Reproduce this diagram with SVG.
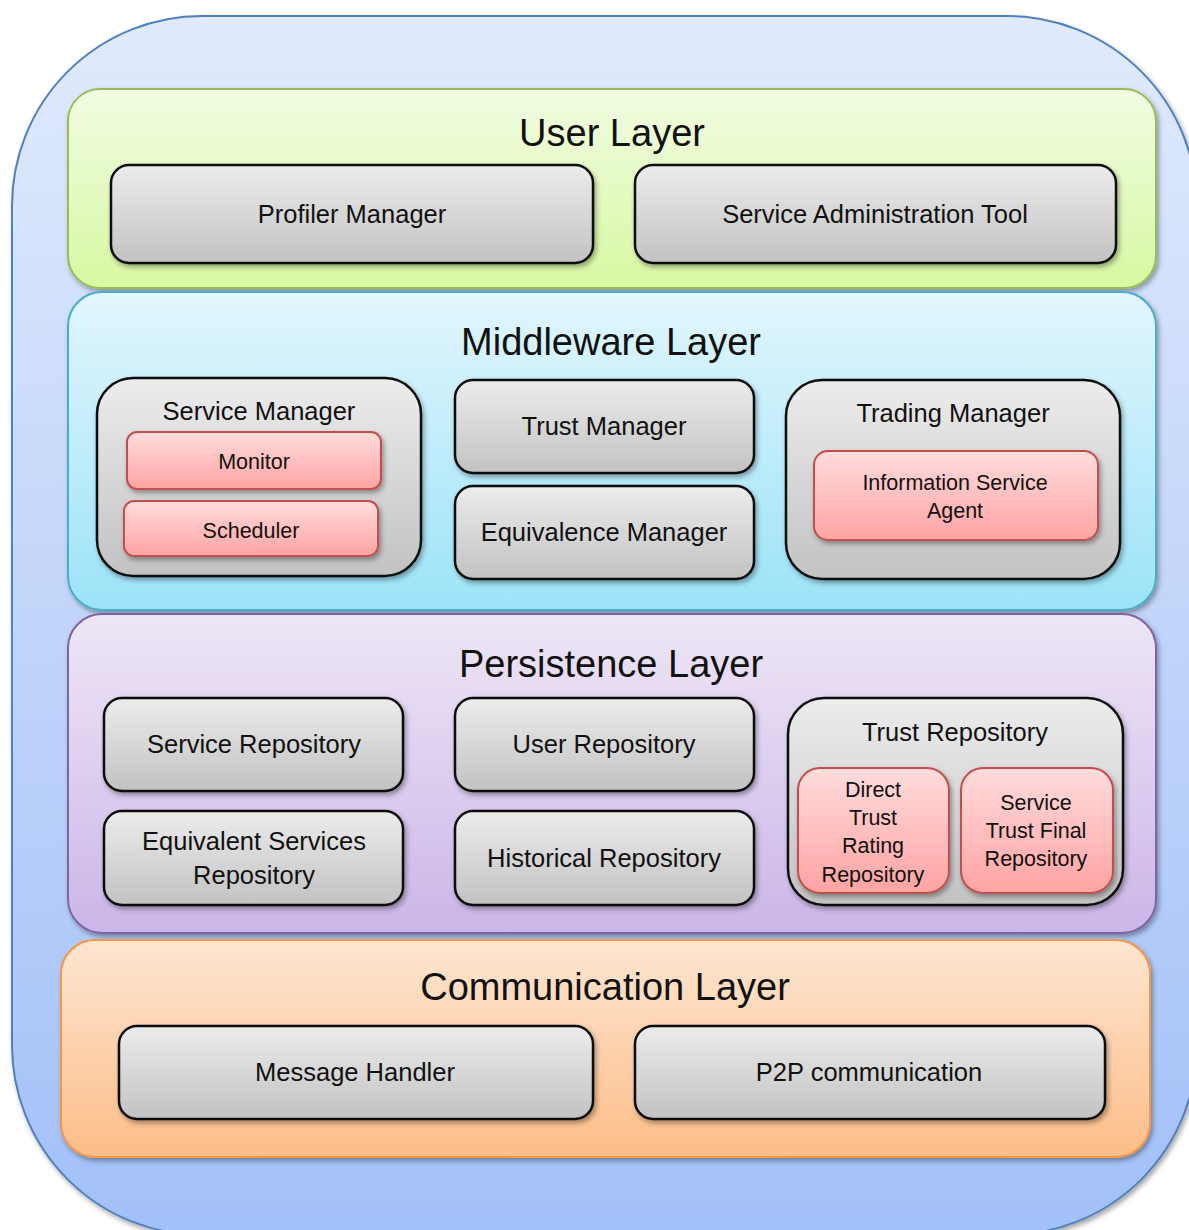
<svg xmlns="http://www.w3.org/2000/svg" width="1189" height="1230" viewBox="0 0 1189 1230">
  <defs>
    <linearGradient id="gOuter" x1="0" y1="0" x2="0" y2="1">
      <stop offset="0" stop-color="#e0eafc"/>
      <stop offset="1" stop-color="#a2c0f8"/>
    </linearGradient>
    <linearGradient id="gUser" x1="0" y1="0" x2="0" y2="1">
      <stop offset="0" stop-color="#f1fce2"/>
      <stop offset="1" stop-color="#d8f8a2"/>
    </linearGradient>
    <linearGradient id="gMid" x1="0" y1="0" x2="0" y2="1">
      <stop offset="0" stop-color="#e2f6fd"/>
      <stop offset="1" stop-color="#9ce3f8"/>
    </linearGradient>
    <linearGradient id="gPers" x1="0" y1="0" x2="0" y2="1">
      <stop offset="0" stop-color="#eee6f6"/>
      <stop offset="1" stop-color="#cbb6e8"/>
    </linearGradient>
    <linearGradient id="gComm" x1="0" y1="0" x2="0" y2="1">
      <stop offset="0" stop-color="#fde6d2"/>
      <stop offset="1" stop-color="#fcbd88"/>
    </linearGradient>
    <linearGradient id="gGray" x1="0" y1="0" x2="0" y2="1">
      <stop offset="0" stop-color="#ececec"/>
      <stop offset="1" stop-color="#c2c2c2"/>
    </linearGradient>
    <linearGradient id="gRed" x1="0" y1="0" x2="0" y2="1">
      <stop offset="0" stop-color="#ffdcdc"/>
      <stop offset="1" stop-color="#ffa3a3"/>
    </linearGradient>
    <filter id="shadow" x="-10%" y="-10%" width="125%" height="130%">
      <feDropShadow dx="2" dy="3" stdDeviation="2.5" flood-color="#000" flood-opacity="0.35"/>
    </filter>
  </defs>
  <style>
    .outer { fill: url(#gOuter); stroke: #4f81bd; stroke-width: 2; }
    .layer { stroke-width: 2; filter: url(#shadow); }
    .box { fill: url(#gGray); stroke: #111; stroke-width: 2.5; filter: url(#shadow); }
    .sub { fill: url(#gRed); stroke: #c0504d; stroke-width: 2; filter: url(#shadow); }
    text { font-family: "Liberation Sans", Arial, sans-serif; fill: #111; text-anchor: middle; }
    .title { font-size: 38px; }
    .lbl { font-size: 25.5px; }
    .small { font-size: 21.5px; }
  </style>

  <!-- enclosing frame -->
  <rect class="outer" x="12" y="16" width="1185" height="1219" rx="190" ry="190" filter="url(#shadow)"/>

  <!-- User layer -->
  <g id="user-layer">
    <rect class="layer" x="68" y="89" width="1088" height="199" rx="32" fill="url(#gUser)" stroke="#9bbb59"/>
    <text class="title" x="612" y="146">User Layer</text>
  </g>
  <g id="profiler-manager">
    <rect class="box" x="111" y="165" width="482" height="98" rx="18"/>
    <text class="lbl" x="352" y="223">Profiler Manager</text>
  </g>
  <g id="service-admin-tool">
    <rect class="box" x="635" y="165" width="481" height="98" rx="18"/>
    <text class="lbl" x="875" y="223">Service Administration Tool</text>
  </g>

  <!-- Middleware layer -->
  <g id="middleware-layer">
    <rect class="layer" x="68" y="292" width="1088" height="318" rx="34" fill="url(#gMid)" stroke="#4bacc6"/>
    <text class="title" x="611" y="355">Middleware Layer</text>
  </g>
  <g id="service-manager">
    <rect class="box" x="97" y="378" width="324" height="198" rx="36"/>
    <text class="lbl" x="259" y="420">Service Manager</text>
  </g>
  <g id="monitor">
    <rect class="sub" x="127" y="432" width="254" height="57" rx="10"/>
    <text class="small" x="254" y="469">Monitor</text>
  </g>
  <g id="scheduler">
    <rect class="sub" x="124" y="501" width="254" height="55" rx="10"/>
    <text class="small" x="251" y="538">Scheduler</text>
  </g>
  <g id="trust-manager">
    <rect class="box" x="455" y="380" width="299" height="93" rx="18"/>
    <text class="lbl" x="604" y="435">Trust Manager</text>
  </g>
  <g id="equivalence-manager">
    <rect class="box" x="455" y="486" width="299" height="93" rx="18"/>
    <text class="lbl" x="604" y="541">Equivalence Manager</text>
  </g>
  <g id="trading-manager">
    <rect class="box" x="786" y="380" width="334" height="199" rx="36"/>
    <text class="lbl" x="953" y="422">Trading Manager</text>
  </g>
  <g id="information-service-agent">
    <rect class="sub" x="814" y="451" width="284" height="89" rx="14"/>
    <text class="small" x="955" y="490">Information Service</text>
    <text class="small" x="955" y="518">Agent</text>
  </g>

  <!-- Persistence layer -->
  <g id="persistence-layer">
    <rect class="layer" x="68" y="614" width="1088" height="319" rx="34" fill="url(#gPers)" stroke="#8064a2"/>
    <text class="title" x="611" y="677">Persistence Layer</text>
  </g>
  <g id="service-repository">
    <rect class="box" x="104" y="698" width="299" height="93" rx="18"/>
    <text class="lbl" x="254" y="753">Service Repository</text>
  </g>
  <g id="user-repository">
    <rect class="box" x="455" y="698" width="299" height="93" rx="18"/>
    <text class="lbl" x="604" y="753">User Repository</text>
  </g>
  <g id="equivalent-services-repository">
    <rect class="box" x="104" y="811" width="299" height="94" rx="18"/>
    <text class="lbl" x="254" y="850">Equivalent Services</text>
    <text class="lbl" x="254" y="884">Repository</text>
  </g>
  <g id="historical-repository">
    <rect class="box" x="455" y="811" width="299" height="94" rx="18"/>
    <text class="lbl" x="604" y="867">Historical Repository</text>
  </g>
  <g id="trust-repository">
    <rect class="box" x="788" y="698" width="335" height="207" rx="36"/>
    <text class="lbl" x="955" y="741">Trust Repository</text>
  </g>
  <g id="direct-trust-rating-repository">
    <rect class="sub" x="798" y="768" width="151" height="125" rx="22"/>
    <text class="small" x="873" y="797">Direct</text>
    <text class="small" x="873" y="825">Trust</text>
    <text class="small" x="873" y="853">Rating</text>
    <text class="small" x="873" y="882">Repository</text>
  </g>
  <g id="service-trust-final-repository">
    <rect class="sub" x="961" y="768" width="152" height="125" rx="22"/>
    <text class="small" x="1036" y="810">Service</text>
    <text class="small" x="1036" y="838">Trust Final</text>
    <text class="small" x="1036" y="866">Repository</text>
  </g>

  <!-- Communication layer -->
  <g id="communication-layer">
    <rect class="layer" x="61" y="940" width="1089" height="217" rx="34" fill="url(#gComm)" stroke="#f79646"/>
    <text class="title" x="605" y="1000">Communication Layer</text>
  </g>
  <g id="message-handler">
    <rect class="box" x="119" y="1026" width="474" height="93" rx="18"/>
    <text class="lbl" x="355" y="1081">Message Handler</text>
  </g>
  <g id="p2p-communication">
    <rect class="box" x="635" y="1026" width="470" height="93" rx="18"/>
    <text class="lbl" x="869" y="1081">P2P communication</text>
  </g>

  <!-- no connectors are drawn between the blocks -->
  <g id="connectors"/>
</svg>
